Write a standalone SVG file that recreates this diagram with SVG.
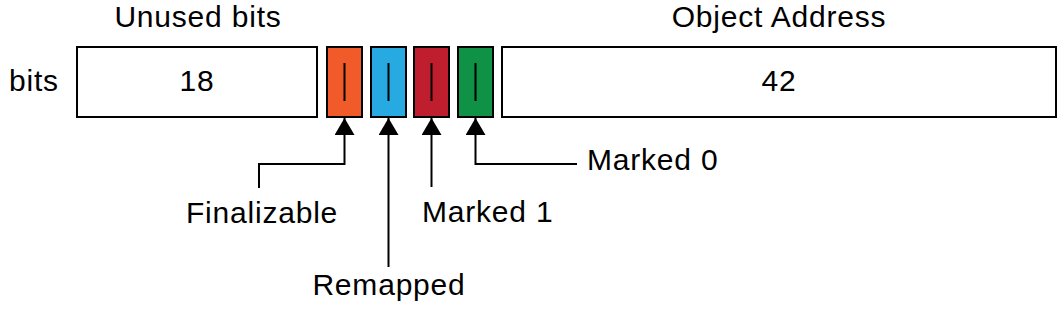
<svg xmlns="http://www.w3.org/2000/svg" width="1064" height="317" viewBox="0 0 1064 317">
<style>
text{font-family:"Liberation Sans",Arial,sans-serif;font-size:30px;letter-spacing:0.8px;fill:#000}
.box{stroke:#000;stroke-width:2}
.bar{fill:#000}
.ln{fill:none;stroke:#000;stroke-width:2}
</style>
<defs>
<marker id="ah" viewBox="0 0 17 20" refX="17" refY="10" markerWidth="17" markerHeight="20" markerUnits="userSpaceOnUse" orient="auto">
<path d="M17 10 L0 20 L0 0 Z" fill="#000"/>
</marker>
</defs>
<text x="198" y="27" text-anchor="middle">Unused bits</text>
<text x="779" y="27" text-anchor="middle">Object Address</text>
<text x="9" y="91">bits</text>
<g id="unused"><rect class="box" x="77" y="47" width="240" height="70" fill="#fff"/><text x="197" y="91" text-anchor="middle">18</text></g>
<g id="finalizable-bit"><rect class="box" x="327" y="47" width="35" height="70" fill="#F15A29"/><rect class="bar" x="343.5" y="63" width="2" height="38"/></g>
<g id="remapped-bit"><rect class="box" x="371" y="47" width="35" height="70" fill="#27AAE1"/><rect class="bar" x="387.5" y="63" width="2" height="38"/></g>
<g id="marked1-bit"><rect class="box" x="414" y="47" width="35" height="70" fill="#BE1E2D"/><rect class="bar" x="430.5" y="63" width="2" height="38"/></g>
<g id="marked0-bit"><rect class="box" x="458" y="47" width="35" height="70" fill="#0F9146"/><rect class="bar" x="474.5" y="63" width="2" height="38"/></g>
<g id="address"><rect class="box" x="502" y="47" width="554" height="70" fill="#fff"/><text x="779" y="91" text-anchor="middle">42</text></g>
<g id="connectors">
<path class="ln" d="M259 188 V164 H344.5 V118" marker-end="url(#ah)"/>
<path class="ln" d="M388.5 267 V118" marker-end="url(#ah)"/>
<path class="ln" d="M431.5 187 V118" marker-end="url(#ah)"/>
<path class="ln" d="M577 164 H475.5 V118" marker-end="url(#ah)"/>
</g>
<g id="labels">
<text x="262" y="223" text-anchor="middle">Finalizable</text>
<text x="389" y="295" text-anchor="middle">Remapped</text>
<text x="422" y="222">Marked 1</text>
<text x="587" y="170">Marked 0</text>
</g>
</svg>
